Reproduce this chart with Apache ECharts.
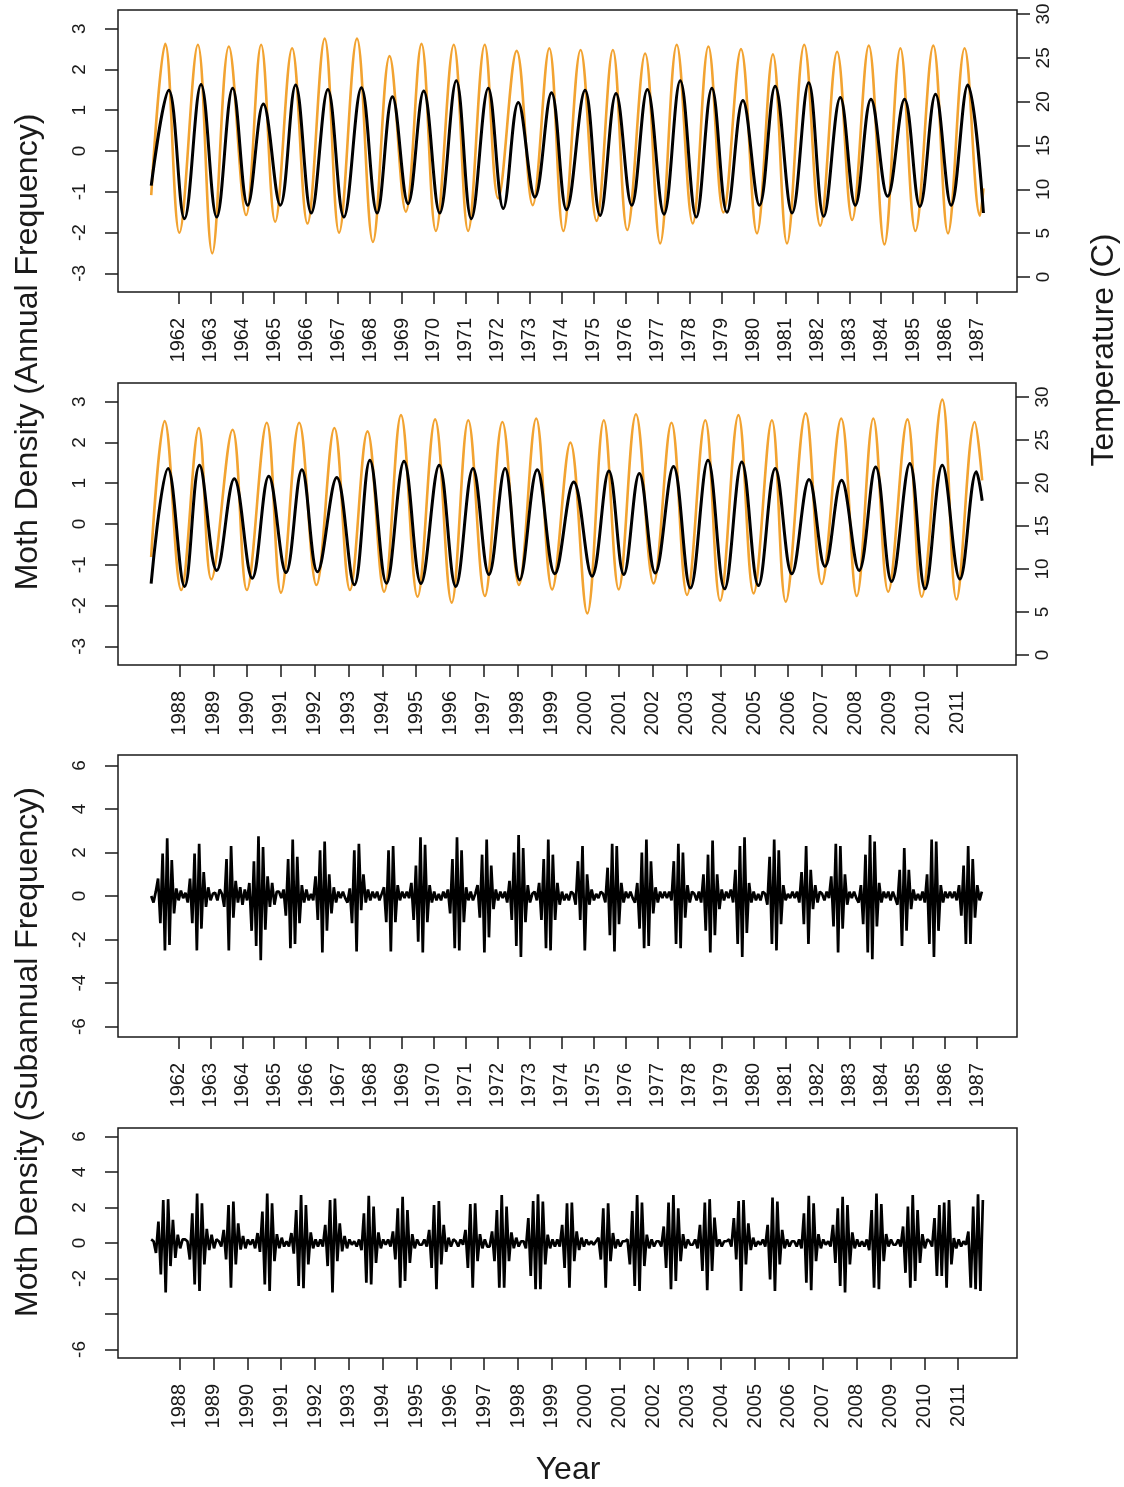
<!DOCTYPE html>
<html><head><meta charset="utf-8">
<script src="https://cdn.jsdelivr.net/npm/echarts@6/dist/echarts.min.js"></script>
<style>html,body{margin:0;padding:0;background:#fff}#c{width:1124px;height:1487px}</style>
</head><body><div id="c"></div>
<script>
// ---------- DATA ----------
const years1 = [1962,1963,1964,1965,1966,1967,1968,1969,1970,1971,1972,1973,1974,1975,1976,1977,1978,1979,1980,1981,1982,1983,1984,1985,1986,1987];
const years2 = [1988,1989,1990,1991,1992,1993,1994,1995,1996,1997,1998,1999,2000,2001,2002,2003,2004,2005,2006,2007,2008,2009,2010,2011];
const annualTicks = [-3,-2,-1,0,1,2,3];
const tempTicks = [0,5,10,15,20,25,30];
const subTicks = [-6,-4,-2,0,2,4,6];
const subLabels4 = [-6,-2,0,2,4,6];

// moth density, annual frequency, 1961-1987 (turning points)
const annual1 = [[1961.15,-0.85],[1961.70,1.49],[1962.19,-1.66],[1962.71,1.63],[1963.20,-1.62],[1963.70,1.54],[1964.17,-1.33],[1964.66,1.15],[1965.19,-1.33],[1965.67,1.62],[1966.16,-1.52],[1966.68,1.51],[1967.18,-1.62],[1967.73,1.55],[1968.22,-1.52],[1968.70,1.33],[1969.19,-1.29],[1969.68,1.47],[1970.18,-1.52],[1970.70,1.72],[1971.17,-1.66],[1971.70,1.54],[1972.17,-1.41],[1972.64,1.19],[1973.16,-1.13],[1973.68,1.43],[1974.15,-1.44],[1974.73,1.49],[1975.20,-1.58],[1975.70,1.41],[1976.19,-1.33],[1976.68,1.51],[1977.20,-1.55],[1977.71,1.72],[1978.21,-1.62],[1978.70,1.54],[1979.17,-1.50],[1979.67,1.24],[1980.19,-1.33],[1980.68,1.59],[1981.21,-1.52],[1981.73,1.67],[1982.20,-1.60],[1982.72,1.31],[1983.19,-1.33],[1983.68,1.27],[1984.20,-1.11],[1984.73,1.27],[1985.21,-1.36],[1985.70,1.39],[1986.19,-1.33],[1986.71,1.62],[1987.20,-1.52]];
// temperature (C), 1961-1987 (turning points)
const temp1 = [[1961.15,9.35],[1961.59,26.6],[1962.03,5.05],[1962.61,26.5],[1963.06,2.7],[1963.58,26.3],[1964.12,7.07],[1964.59,26.5],[1965.03,6.3],[1965.56,26.1],[1966.04,6.1],[1966.58,27.2],[1967.03,5.05],[1967.59,27.2],[1968.09,4.0],[1968.61,25.2],[1969.12,7.45],[1969.61,26.6],[1970.06,5.25],[1970.62,26.5],[1971.07,5.25],[1971.59,26.5],[1972.01,8.97],[1972.59,25.8],[1973.09,8.2],[1973.61,26.1],[1974.05,5.25],[1974.59,25.9],[1975.09,6.4],[1975.60,25.9],[1976.05,5.36],[1976.61,25.5],[1977.08,3.84],[1977.60,26.5],[1978.10,6.1],[1978.59,26.3],[1979.06,7.37],[1979.61,26.0],[1980.11,4.98],[1980.61,25.4],[1981.05,3.84],[1981.59,26.5],[1982.09,5.85],[1982.62,25.7],[1983.09,6.5],[1983.61,26.4],[1984.10,3.72],[1984.60,26.1],[1985.07,5.25],[1985.63,26.4],[1986.09,4.98],[1986.61,26.1],[1987.09,7.0],[1987.20,10.1]];
// moth density, annual frequency, 1987-2011
const annual2 = [[1987.16,-1.46],[1987.66,1.36],[1988.15,-1.53],[1988.59,1.44],[1989.10,-1.14],[1989.62,1.11],[1990.15,-1.33],[1990.64,1.17],[1991.15,-1.19],[1991.62,1.33],[1992.08,-1.17],[1992.65,1.14],[1993.17,-1.49],[1993.63,1.56],[1994.12,-1.45],[1994.64,1.54],[1995.14,-1.46],[1995.68,1.44],[1996.17,-1.53],[1996.68,1.36],[1997.15,-1.24],[1997.63,1.36],[1998.06,-1.37],[1998.58,1.33],[1999.10,-1.22],[1999.66,1.03],[2000.20,-1.28],[2000.70,1.30],[2001.14,-1.24],[2001.60,1.24],[2002.07,-1.20],[2002.61,1.41],[2003.11,-1.57],[2003.63,1.56],[2004.12,-1.59],[2004.63,1.52],[2005.12,-1.51],[2005.62,1.36],[2006.11,-1.22],[2006.62,1.09],[2007.09,-1.04],[2007.58,1.07],[2008.10,-1.14],[2008.59,1.40],[2009.06,-1.41],[2009.60,1.48],[2010.05,-1.59],[2010.56,1.44],[2011.08,-1.35],[2011.57,1.28],[2011.74,0.57]];
// temperature (C), 1987-2011
const temp2 = [[1987.16,11.4],[1987.56,27.2],[1988.05,7.56],[1988.57,26.4],[1988.94,8.8],[1989.57,26.2],[1989.99,7.56],[1990.58,27.0],[1991.00,7.25],[1991.54,27.0],[1992.05,8.14],[1992.58,26.4],[1993.04,7.56],[1993.56,26.0],[1994.05,7.36],[1994.55,27.9],[1995.04,6.78],[1995.56,27.4],[1996.05,6.09],[1996.54,27.3],[1997.03,6.86],[1997.55,27.1],[1998.04,8.14],[1998.55,27.5],[1999.02,7.63],[1999.56,24.7],[2000.06,4.84],[2000.55,27.3],[2000.99,7.63],[2001.50,28.0],[2002.02,8.33],[2002.55,27.0],[2003.01,6.98],[2003.55,27.3],[2003.99,6.32],[2004.53,27.9],[2004.98,7.17],[2005.52,27.3],[2005.93,6.2],[2006.52,28.1],[2006.99,8.26],[2007.57,27.5],[2008.03,6.86],[2008.52,27.5],[2008.96,7.36],[2009.53,27.4],[2009.95,6.78],[2010.56,29.7],[2010.98,6.47],[2011.52,27.1],[2011.74,20.3]];

// subannual frequency: one row per year window, 14 samples per year
const sub1Start = 1961.15;
const sub1 = [
 [0.0,-0.3,0.2,0.8,-1.25,1.95,-2.5,2.65,-2.25,1.65,-0.8,0.35,-0.2,0.25],
 [-0.1,0.15,-0.3,0.8,-1.25,1.95,-2.5,2.4,-1.5,1.1,-0.5,0.4,-0.2,0.1],
 [0.15,-0.2,0.3,0.1,-0.5,1.7,-2.5,2.3,-1.0,0.7,-0.3,0.4,-0.4,0.3],
 [-0.2,0.6,-1.6,1.6,-2.3,2.75,-2.95,2.25,-1.55,0.9,-0.5,0.6,-0.4,0.2],
 [0.2,-0.1,0.3,-0.9,1.7,-2.4,2.6,-2.2,1.8,-1.25,0.5,-0.3,0.3,-0.2],
 [0.1,-0.2,0.9,-1.1,2.1,-2.6,2.5,-1.6,1.0,-0.8,0.4,-0.3,0.2,-0.1],
 [0.2,-0.1,-0.3,0.35,-1.25,2.1,-2.55,2.4,-0.65,1.0,-0.3,0.3,-0.2,0.2],
 [-0.1,0.2,-0.2,0.1,0.4,-1.2,2.1,-2.55,2.3,-1.2,0.5,-0.2,0.2,-0.1],
 [0.2,-0.1,0.6,-1.1,1.4,-2.1,2.7,-2.6,2.35,-1.2,0.5,-0.3,0.2,-0.2],
 [0.1,-0.2,0.2,-0.1,0.3,-0.8,1.7,-2.4,2.7,-2.5,2.1,-1.2,0.4,-0.2],
 [0.2,-0.2,0.1,0.5,-1.0,1.9,-2.6,2.6,-1.9,1.4,-0.6,0.3,-0.2,0.2],
 [-0.1,0.2,-0.3,0.7,-1.1,2.0,-2.3,2.8,-2.8,2.2,-1.2,0.5,-0.3,0.1],
 [0.2,-0.2,0.6,-1.1,1.7,-2.4,2.6,-2.5,1.9,-1.1,0.6,-0.4,0.2,-0.2],
 [0.1,-0.2,0.2,0.1,-0.4,1.6,-1.1,2.3,-2.5,1.0,-0.4,0.3,-0.2,0.1],
 [-0.1,0.2,0.1,-0.3,1.3,-1.8,2.4,-2.55,2.3,-1.3,0.6,-0.3,0.2,-0.1],
 [0.2,-0.1,-0.3,0.6,-1.5,2.0,-2.4,2.6,-2.3,1.6,-0.8,0.4,-0.3,0.2],
 [-0.1,0.2,-0.1,0.2,-0.2,1.6,-2.2,2.4,-2.4,2.0,-1.0,0.5,-0.3,0.2],
 [0.1,-0.2,0.2,-0.3,1.0,-1.6,1.9,-2.6,2.55,-1.8,1.0,-0.6,0.3,-0.2],
 [0.2,-0.1,0.3,-0.3,1.2,-2.2,2.3,-2.8,2.7,-1.7,0.6,-0.3,0.2,-0.2],
 [0.1,-0.2,0.2,0.1,-0.4,1.8,-2.2,2.6,-2.5,2.1,-1.3,0.5,-0.2,0.1],
 [-0.1,0.2,-0.1,0.2,-0.3,1.1,-1.3,2.3,-2.2,1.2,-0.6,0.5,-0.3,0.2],
 [0.1,-0.2,0.2,-0.1,0.9,-1.4,2.4,-2.6,2.3,-1.5,1.0,-0.4,0.2,-0.1],
 [0.2,-0.1,-0.3,0.5,-1.3,1.9,-2.6,2.8,-2.9,2.5,-1.4,0.6,-0.3,0.2],
 [-0.1,0.2,-0.2,0.2,-0.1,-0.4,1.2,-2.3,2.2,-1.6,1.2,-0.6,0.3,-0.2],
 [0.1,-0.2,0.2,-0.3,1.0,-2.2,2.6,-2.8,2.5,-1.6,0.5,-0.3,0.2,-0.1],
 [0.2,-0.1,0.2,-0.2,0.5,-0.9,1.4,-2.2,2.3,-2.2,1.7,-1.0,0.5,-0.2]
];
const sub1Tail = [0.2];
const sub2Start = 1987.16;
const sub2 = [
 [0.2,0.1,-0.56,1.21,-1.77,2.42,-2.79,2.47,-1.3,1.3,-0.84,0.47,-0.3,0.2],
 [0.2,0.1,-0.93,1.67,-2.33,2.79,-2.7,2.24,-1.21,0.8,-0.4,0.47,-0.3,0.2],
 [0.1,-0.2,0.74,-0.93,2.14,-2.52,2.33,-1.21,1.11,-0.37,0.4,-0.3,0.2,-0.1],
 [0.2,-0.3,0.56,-0.5,1.77,-2.33,2.79,-2.7,2.24,-1.02,0.5,-0.3,0.3,-0.2],
 [0.1,-0.2,0.56,-0.6,1.86,-2.42,2.7,-2.55,2.14,-1.21,0.6,-0.3,0.2,-0.2],
 [0.2,-0.2,1.02,-1.3,2.42,-2.79,2.5,-1.02,1.11,-0.47,0.4,-0.3,0.2,-0.1],
 [0.1,-0.2,0.2,-0.4,1.67,-2.24,2.66,-2.33,2.05,-1.12,0.6,-0.3,0.2,-0.1],
 [0.2,-0.2,0.65,-0.93,1.96,-2.52,2.6,-2.14,1.86,-1.12,0.5,-0.3,0.2,-0.1],
 [-0.1,0.2,-0.2,0.74,-1.4,2.14,-2.61,2.37,-1.21,1.02,-0.5,0.3,-0.2,0.2],
 [0.1,-0.2,0.2,-0.1,0.74,-1.4,2.2,-2.52,2.24,-1.02,0.5,-0.3,0.2,-0.2],
 [-0.2,0.65,-1.02,1.86,-2.52,2.7,-2.52,2.05,-1.02,0.6,-0.3,0.3,-0.2,0.1],
 [0.1,-0.3,1.4,-1.86,2.37,-2.61,2.75,-2.61,2.33,-1.21,0.47,-0.3,0.2,-0.2],
 [0.2,-0.2,1.02,-1.4,2.24,-2.52,2.28,-1.02,0.65,-0.4,0.3,-0.2,0.2,-0.1],
 [0.1,-0.1,0.1,0.3,-0.93,1.96,-2.52,2.24,-1.02,0.56,-0.3,0.2,-0.2,0.1],
 [0.1,0.2,-1.21,1.8,-2.42,2.7,-2.7,2.28,-1.3,0.47,-0.3,0.2,-0.2,0.1],
 [0.1,-0.2,0.93,-1.4,2.28,-2.61,2.7,-2.14,1.96,-1.02,0.5,-0.3,0.2,-0.1],
 [-0.1,0.2,-0.3,1.02,-1.58,2.28,-2.66,2.47,-1.58,1.43,-0.2,0.2,-0.2,0.1],
 [0.1,0.2,-0.2,1.4,-0.93,2.37,-2.7,2.42,-1.21,1.11,-0.4,0.3,-0.2,0.1],
 [-0.1,0.2,-0.2,1.02,-2.05,2.56,-2.7,2.33,-1.21,0.74,-0.3,0.2,-0.2,0.1],
 [0.1,-0.2,0.2,-0.3,1.67,-2.24,2.66,-2.66,2.24,-1.02,0.5,-0.3,0.2,-0.1],
 [0.1,-0.2,1.02,-1.12,1.96,-2.42,2.6,-2.79,2.14,-1.21,0.6,-0.3,0.2,-0.2],
 [0.1,-0.2,0.2,-0.4,1.86,-2.52,2.79,-2.61,2.2,-1.02,0.5,-0.2,0.2,-0.1],
 [-0.1,0.2,-0.2,0.93,-1.68,2.05,-2.52,2.7,-2.14,1.86,-1.12,0.5,-0.3,0.2],
 [0.1,-0.2,1.4,-1.86,2.14,-1.86,2.28,-2.52,2.42,-1.21,0.28,-0.3,0.2,-0.2]
];
const sub2Tail = [0.1,-0.1,0.65,-2.52,2.05,-2.61,2.75,-2.7,2.42];
const samplesPerYear = 14;

// ---------- CHART ----------
function expand(rows, tail, start, per) {
  const out = [];
  rows.forEach((r, n) => r.forEach((v, k) => out.push([start + n + k / per, v])));
  tail.forEach((v, k) => out.push([start + rows.length + k / per, v]));
  return out;
}
const FONT = '"Liberation Sans", Arial, Helvetica, sans-serif';
const INK = '#1a1a1a';
const ORANGE = '#F2A331';

function xAx(gi, min, max, yrs) {
  return {
    type: 'value', gridIndex: gi, min: min, max: max, position: 'bottom',
    axisLine: { show: false, onZero: false }, splitLine: { show: false },
    axisTick: { show: true, customValues: yrs, length: 12, lineStyle: { color: INK, width: 1.5 } },
    axisLabel: { show: true, customValues: yrs, rotate: 90, margin: 26, fontSize: 20, color: INK, fontFamily: FONT, formatter: v => String(v) }
  };
}
function yAx(gi, min, max, ticks, labels, pos, margin) {
  return {
    type: 'value', gridIndex: gi, min: min, max: max, position: pos,
    axisLine: { show: false, onZero: false }, splitLine: { show: false },
    axisTick: { show: true, customValues: ticks, length: 13, lineStyle: { color: INK, width: 1.5 } },
    axisLabel: { show: true, customValues: labels, rotate: 90, margin: margin, fontSize: 19, color: INK, fontFamily: FONT, formatter: v => String(v) }
  };
}
const gridBase = { show: true, borderColor: INK, borderWidth: 1.5, backgroundColor: 'transparent' };

const option = {
  animation: false,
  backgroundColor: '#ffffff',
  grid: [
    Object.assign({ left: 118, top: 10, width: 899, height: 282 }, gridBase),
    Object.assign({ left: 118, top: 383, width: 898, height: 282 }, gridBase),
    Object.assign({ left: 118, top: 755, width: 899, height: 282 }, gridBase),
    Object.assign({ left: 118, top: 1128, width: 899, height: 230 }, gridBase)
  ],
  xAxis: [
    xAx(0, 1960.11, 1988.25, years1),
    xAx(1, 1986.18, 2012.74, years2),
    xAx(2, 1960.11, 1988.25, years1),
    xAx(3, 1986.18, 2012.74, years2)
  ],
  yAxis: [
    yAx(0, -3.456, 3.456, annualTicks, annualTicks, 'left', 29),
    yAx(0, -1.71, 30.46, tempTicks, tempTicks, 'right', 17),
    yAx(1, -3.456, 3.456, annualTicks, annualTicks, 'left', 29),
    yAx(1, -1.16, 31.63, tempTicks, tempTicks, 'right', 17),
    yAx(2, -6.48, 6.48, subTicks, subTicks, 'left', 29),
    yAx(3, -6.48, 6.48, subTicks, subLabels4, 'left', 29)
  ],
  series: [
    { type: 'line', xAxisIndex: 0, yAxisIndex: 1, data: temp1, smooth: 0.38, showSymbol: false, silent: true, lineStyle: { color: ORANGE, width: 2.6 } },
    { type: 'line', xAxisIndex: 0, yAxisIndex: 0, data: annual1, smooth: 0.38, showSymbol: false, silent: true, lineStyle: { color: '#000', width: 3 } },
    { type: 'line', xAxisIndex: 1, yAxisIndex: 3, data: temp2, smooth: 0.38, showSymbol: false, silent: true, lineStyle: { color: ORANGE, width: 2.6 } },
    { type: 'line', xAxisIndex: 1, yAxisIndex: 2, data: annual2, smooth: 0.38, showSymbol: false, silent: true, lineStyle: { color: '#000', width: 3 } },
    { type: 'line', xAxisIndex: 2, yAxisIndex: 4, data: expand(sub1, sub1Tail, sub1Start, samplesPerYear), showSymbol: false, silent: true, lineStyle: { color: '#000', width: 2.7 } },
    { type: 'line', xAxisIndex: 3, yAxisIndex: 5, data: expand(sub2, sub2Tail, sub2Start, samplesPerYear), showSymbol: false, silent: true, lineStyle: { color: '#000', width: 2.7 } }
  ],
  graphic: [
    { type: 'text', x: 28, y: 352, rotation: Math.PI / 2, style: { text: 'Moth Density (Annual Frequency)', font: '32px ' + FONT, fill: INK, align: 'center', verticalAlign: 'middle', textAlign: 'center', textVerticalAlign: 'middle' } },
    { type: 'text', x: 28, y: 1052, rotation: Math.PI / 2, style: { text: 'Moth Density (Subannual Frequency)', font: '32px ' + FONT, fill: INK, align: 'center', verticalAlign: 'middle', textAlign: 'center', textVerticalAlign: 'middle' } },
    { type: 'text', x: 1104, y: 350, rotation: Math.PI / 2, style: { text: 'Temperature (C)', font: '32px ' + FONT, fill: INK, align: 'center', verticalAlign: 'middle', textAlign: 'center', textVerticalAlign: 'middle' } },
    { type: 'text', x: 568, y: 1470, style: { text: 'Year', font: '32px ' + FONT, fill: INK, align: 'center', verticalAlign: 'middle', textAlign: 'center', textVerticalAlign: 'middle' } }
  ]
};
const chart = echarts.init(document.getElementById('c'), null, { renderer: 'canvas' });
chart.setOption(option);
</script></body></html>
